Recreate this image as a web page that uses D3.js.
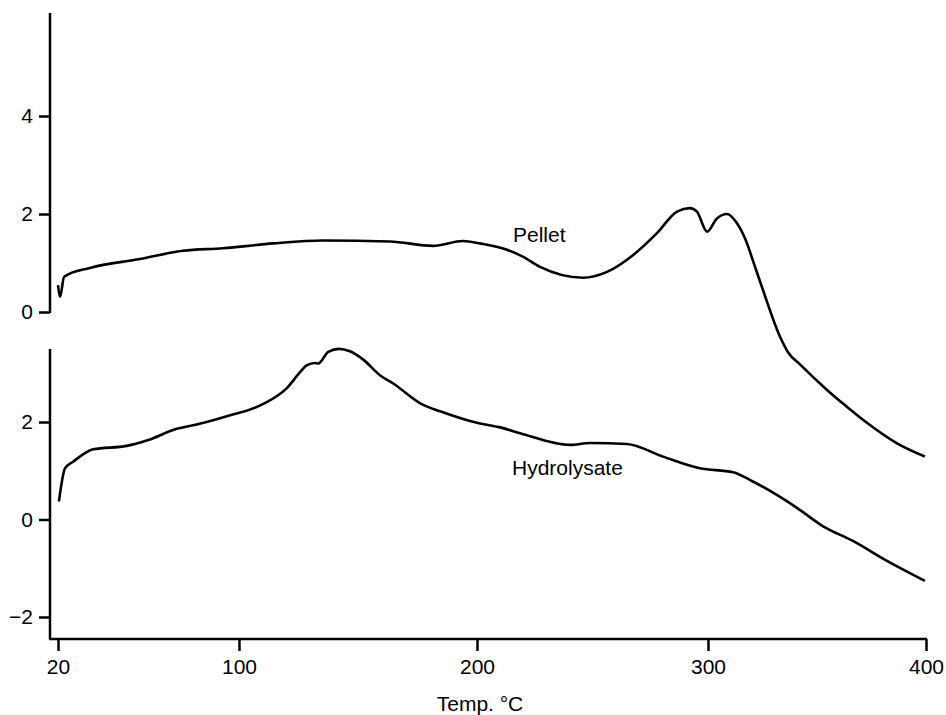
<!DOCTYPE html>
<html>
<head>
<meta charset="utf-8">
<script src="https://cdn.jsdelivr.net/npm/d3@7"></script>
<style>
  body { margin: 0; background: #fff; }
  text { font-family: "Liberation Sans", Arial, Helvetica, sans-serif; }
</style>
</head>
<body>
<div id="chart"></div>
<script>
// temperature ticks (the printed axis is slightly uneven, so each tick gets its own anchor)
var tempTicks = [20, 100, 200, 300, 400];

// Pellet trace (upper panel)
var pelletTemp = [20, 20.9, 22.7, 34.1, 56.2, 75.2, 92.9, 114.3, 135.3, 163.4, 181.5, 194.1,
  201.3, 213.0, 219.8, 227.3, 245.9, 256.3, 267.5, 277.9, 286.6, 292.2, 295.2, 299.6,
  304.1, 308.7, 313.3, 317.9, 320.6, 325.2, 333.0, 336.7, 342.2, 354.6, 363.6,
  371.1, 386.7, 399.5];
var pelletValue = [0.55, 0.31, 0.72, 0.90, 1.08, 1.25, 1.30, 1.40, 1.46, 1.44, 1.35, 1.45,
  1.40, 1.27, 1.13, 0.92, 0.70, 0.82, 1.16, 1.61, 2.05, 2.12, 2.05, 1.64,
  1.91, 2.00, 1.81, 1.40, 1.05, 0.45, -0.50, -0.82, -1.07, -1.59, -1.93,
  -2.20, -2.68, -2.95];

// Hydrolysate trace (lower panel)
var hydroTemp = [20.4, 23.1, 26.8, 35.6, 50.4, 59.2, 72.5, 81.3, 94.6, 110.2, 120.0, 126.3,
  128.4, 131.9, 133.3, 137.5, 142.0, 146.6, 152.2, 159.2, 164.8, 177.4, 184.5, 197.1, 201.3,
  210.0, 218.6, 240.3, 248.9, 264.9, 280.5, 296.5, 311.5, 320.6, 340.8, 352.8, 366.5,
  382.1, 399.5];
var hydroValue = [0.37, 1.05, 1.19, 1.44, 1.51, 1.62, 1.86, 1.95, 2.12, 2.37, 2.69, 3.06,
  3.16, 3.21, 3.20, 3.44, 3.50, 3.45, 3.28, 2.96, 2.79, 2.35, 2.22, 2.02, 1.97,
  1.89, 1.77, 1.53, 1.57, 1.55, 1.29, 1.05, 0.97, 0.78, 0.24, -0.14, -0.44,
  -0.85, -1.26];

var topTicks = [0, 2, 4];
var bottomTicks = [-2, 0, 2];

var width = 946, height = 715;
var axisX = 50, baseY = 639;
var fontSize = '21px';

var svg = d3.select('#chart').append('svg')
  .attr('width', width)
  .attr('height', height);

var xScale = d3.scaleLinear()
  .domain(tempTicks)
  .range([58, 239, 477, 708, 926]);

var yTop = d3.scaleLinear().domain([0, 4]).range([312, 116]);
var yBottom = d3.scaleLinear().domain([-2, 2]).range([617, 422]);

function styleAxis(g) {
  g.select('.domain').remove();
  g.selectAll('.tick line').attr('stroke', '#000').attr('stroke-width', 2.5);
  g.selectAll('.tick text').attr('fill', '#000').style('font-size', fontSize);
}

// upper y axis
svg.append('line')
  .attr('x1', axisX).attr('x2', axisX)
  .attr('y1', yTop(6.1)).attr('y2', yTop(0) + 1)
  .attr('stroke', '#000').attr('stroke-width', 2.5);
svg.append('g')
  .attr('transform', 'translate(' + axisX + ',0)')
  .call(d3.axisLeft(yTop).tickValues(topTicks).tickFormat(d3.format('d')).tickSize(11).tickPadding(6))
  .call(styleAxis);

// lower y axis
svg.append('line')
  .attr('x1', axisX).attr('x2', axisX)
  .attr('y1', yBottom(3.5)).attr('y2', baseY)
  .attr('stroke', '#000').attr('stroke-width', 2.5);
svg.append('g')
  .attr('transform', 'translate(' + axisX + ',0)')
  .call(d3.axisLeft(yBottom).tickValues(bottomTicks).tickFormat(d3.format('d')).tickSize(11).tickPadding(6))
  .call(styleAxis);

// x axis
svg.append('line')
  .attr('x1', axisX - 1).attr('x2', xScale(400) + 1)
  .attr('y1', baseY).attr('y2', baseY)
  .attr('stroke', '#000').attr('stroke-width', 2.5);
svg.append('g')
  .attr('transform', 'translate(0,' + baseY + ')')
  .call(d3.axisBottom(xScale).tickValues(tempTicks).tickSize(12).tickPadding(8))
  .call(styleAxis);

svg.append('text')
  .attr('x', 480)
  .attr('y', 711)
  .attr('text-anchor', 'middle')
  .style('font-size', fontSize)
  .text('Temp. \u00B0C');

// traces
var pellet = pelletTemp.map(function (t, i) { return { t: t, v: pelletValue[i] }; });
var hydro = hydroTemp.map(function (t, i) { return { t: t, v: hydroValue[i] }; });

var linePellet = d3.line()
  .x(function (d) { return xScale(d.t); })
  .y(function (d) { return yTop(d.v); })
  .curve(d3.curveMonotoneX);

var lineHydro = d3.line()
  .x(function (d) { return xScale(d.t); })
  .y(function (d) { return yBottom(d.v); })
  .curve(d3.curveMonotoneX);

svg.append('path')
  .attr('d', linePellet(pellet))
  .attr('fill', 'none')
  .attr('stroke', '#000')
  .attr('stroke-width', 2.6)
  .attr('stroke-linejoin', 'round');

svg.append('path')
  .attr('d', lineHydro(hydro))
  .attr('fill', 'none')
  .attr('stroke', '#000')
  .attr('stroke-width', 2.6)
  .attr('stroke-linejoin', 'round');

// series labels
svg.append('text')
  .attr('x', 513).attr('y', 242)
  .style('font-size', fontSize)
  .text('Pellet');

svg.append('text')
  .attr('x', 512).attr('y', 475)
  .style('font-size', fontSize)
  .text('Hydrolysate');
</script>
</body>
</html>
